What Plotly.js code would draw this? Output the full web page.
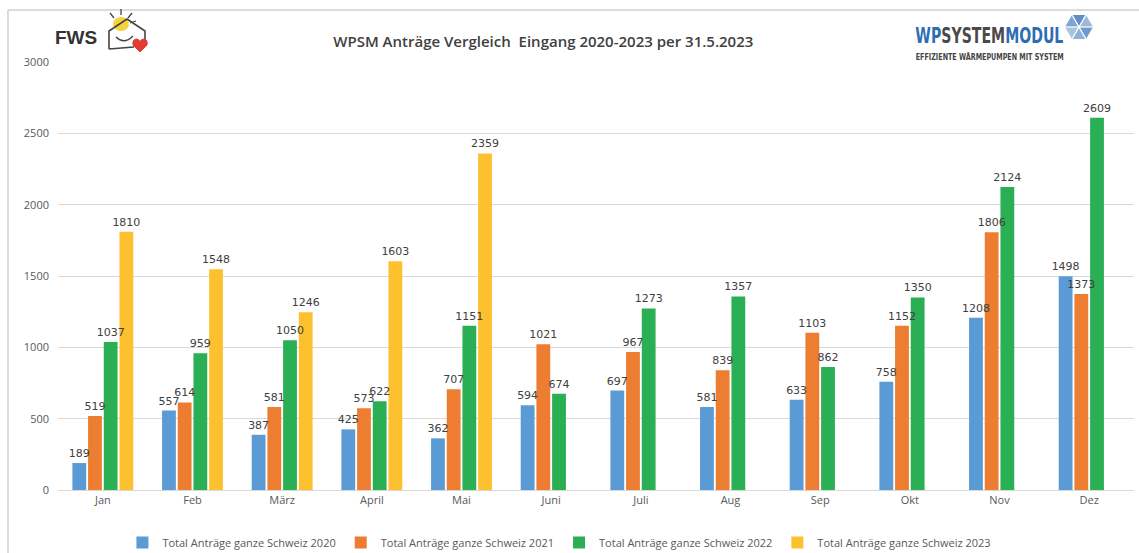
<!DOCTYPE html>
<html><head><meta charset="utf-8">
<script src="https://cdn.plot.ly/plotly-3.0.1.min.js"></script>
<style>html,body{margin:0;padding:0;background:#fff}#chart{width:1139px;height:553px}</style>
</head><body><div id="chart"></div>
<script>
const months = ["Jan","Feb","März","April","Mai","Juni","Juli","Aug","Sep","Okt","Nov","Dez"];
const seriesNames = ["Total Anträge ganze Schweiz 2020","Total Anträge ganze Schweiz 2021","Total Anträge ganze Schweiz 2022","Total Anträge ganze Schweiz 2023"];
const v2020 = [189,557,387,425,362,594,697,581,633,758,1208,1498];
const v2021 = [519,614,581,573,707,1021,967,839,1103,1152,1806,1373];
const v2022 = [1037,959,1050,622,1151,674,1273,1357,862,1350,2124,2609];
const v2023 = [1810,1548,1246,1603,2359,null,null,null,null,null,null,null];
const colors = ["#5B9BD5","#ED7D31","#2AAF55","#FDC02F"];
const allValues = [v2020,v2021,v2022,v2023];

const barTraces = allValues.map((vals,i)=>({
  type:"bar", x:months, y:vals, name:seriesNames[i], offsetgroup:"g"+i,
  marker:{color:colors[i]}, hoverinfo:"x+y"
}));
// transparent copies carrying the data labels, drawn after all bars so labels stay on top
const labelTraces = allValues.map((vals,i)=>({
  type:"bar", x:months, y:vals, name:seriesNames[i], offsetgroup:"g"+i, showlegend:false,
  marker:{color:"rgba(0,0,0,0)"}, hoverinfo:"skip",
  text:vals.map(v=>v==null?"":String(v)), textposition:"outside", constraintext:"none", textangle:0,
  textfont:{family:"DejaVu Sans", size:11, color:"#404040"}, cliponaxis:false
}));

const PX = px => (px-58)/1076;
const PY = py => (490-py)/428;

const hexC = [1079, 27], hexR = 14;
const hexPts = [];
for (let k=0;k<6;k++){ const a = k*Math.PI/3; hexPts.push([hexC[0]+hexR*Math.cos(a), hexC[1]-hexR*Math.sin(a)]); }
const hexPath = "M " + hexPts.map(p=>PX(p[0]).toFixed(4)+" "+PY(p[1]).toFixed(4)).join(" L ") + " Z";
const hexLines = hexPts.slice(0,3).map((p,k)=>{ const q = hexPts[k+3];
  return {type:"line", xref:"paper", yref:"paper", x0:PX(p[0]), y0:PY(p[1]), x1:PX(q[0]), y1:PY(q[1]), line:{color:"#fff", width:1.2}}; });
const tri = (a,b,c)=>({type:"path", xref:"paper", yref:"paper",
  path:`M ${PX(hexC[0])} ${PY(hexC[1])} L ${PX(hexPts[a][0])} ${PY(hexPts[a][1])} L ${PX(hexPts[b][0])} ${PY(hexPts[b][1])} Z`, fillcolor:c, line:{width:0}});

const layout = {
  width:1139, height:553,
  margin:{l:58,r:5,t:62,b:63, autoexpand:false},
  paper_bgcolor:"#fff", plot_bgcolor:"#fff",
  barmode:"group", bargap:0.3, bargroupgap:0.12,
  title:{text:"WPSM Anträge Vergleich  Eingang 2020-2023 per 31.5.2023", x:0.477, xanchor:"center", y:0.925, yanchor:"middle",
    font:{family:"Open Sans", size:15, color:"#404040", weight:600}},
  xaxis:{type:"category", showline:true, linecolor:"#d9d9d9", linewidth:1, ticks:"", showgrid:false,
    tickfont:{family:"Open Sans", size:11, color:"#595959"}},
  yaxis:{range:[0,3000], dtick:500, showgrid:true, gridcolor:"#d9d9d9", gridwidth:1, zeroline:false,
    tickfont:{family:"Open Sans", size:11, color:"#595959"}, ticklabelstandoff:8},
  showlegend:true,
  legend:{orientation:"h", x:0.466, xanchor:"center", y:PY(528), yanchor:"top",
    font:{family:"Open Sans", size:11, color:"#595959"}, traceorder:"normal"},
  annotations:[
    {xref:"paper", yref:"paper", x:PX(53), y:PY(37), xanchor:"left", yanchor:"middle", showarrow:false,
      text:"<b>FWS</b>", font:{family:"Liberation Sans", size:19, color:"#333"}},
    {xref:"paper", yref:"paper", x:PX(989), y:PY(35), xanchor:"center", yanchor:"middle", showarrow:false,
      text:"<b><span style='color:#2E6DB4'>WP</span><span style='color:#4a4a4a'>SYSTEM</span><span style='color:#2E6DB4'>MODUL</span></b>",
      font:{family:"DejaVu Sans", size:22}},
    {xref:"paper", yref:"paper", x:PX(989), y:PY(56), xanchor:"center", yanchor:"middle", showarrow:false,
      text:"<b>EFFIZIENTE WÄRMEPUMPEN MIT SYSTEM</b>",
      font:{family:"DejaVu Sans", size:9.5, color:"#444"}}
  ],
  shapes:[
    {type:"line", xref:"paper", yref:"paper", x0:PX(8), x1:PX(1139), y0:PY(10), y1:PY(10), line:{color:"#d0d0d0", width:1.5}},
    {type:"line", xref:"paper", yref:"paper", x0:PX(8), x1:PX(8), y0:PY(10), y1:PY(553), line:{color:"#d0d0d0", width:1.5}},
    {type:"circle", xref:"paper", yref:"paper", x0:PX(113), x1:PX(129), y0:PY(31), y1:PY(17), fillcolor:"#F5D33A", line:{width:0}},
    {type:"line", xref:"paper", yref:"paper", x0:PX(121), x1:PX(121), y0:PY(15), y1:PY(9), line:{color:"#444", width:1.3}},
    {type:"line", xref:"paper", yref:"paper", x0:PX(114), x1:PX(110), y0:PY(18), y1:PY(13), line:{color:"#444", width:1.3}},
    {type:"line", xref:"paper", yref:"paper", x0:PX(128), x1:PX(132), y0:PY(18), y1:PY(13), line:{color:"#444", width:1.3}},
    {type:"line", xref:"paper", yref:"paper", x0:PX(130), x1:PX(136), y0:PY(23), y1:PY(21), line:{color:"#444", width:1.3}},
    {type:"path", xref:"paper", yref:"paper",
      path:`M ${PX(109)} ${PY(49)} L ${PX(109)} ${PY(31)} L ${PX(127)} ${PY(19)} L ${PX(145)} ${PY(31)} L ${PX(145)} ${PY(43)} M ${PX(109)} ${PY(49)} L ${PX(134)} ${PY(47)}`,
      line:{color:"#444", width:1.6}, fillcolor:"rgba(0,0,0,0)"},
    {type:"path", xref:"paper", yref:"paper",
      path:`M ${PX(116)} ${PY(37)} Q ${PX(124)} ${PY(45)} ${PX(133)} ${PY(36)}`,
      line:{color:"#444", width:1.4}, fillcolor:"rgba(0,0,0,0)"},
    {type:"path", xref:"paper", yref:"paper",
      path:`M ${PX(140)} ${PY(52)} L ${PX(133)} ${PY(45)} Q ${PX(132)} ${PY(39)} ${PX(137)} ${PY(39)} Q ${PX(140)} ${PY(40)} ${PX(140)} ${PY(42)} Q ${PX(141)} ${PY(39)} ${PX(144)} ${PY(39)} Q ${PX(148)} ${PY(40)} ${PX(147)} ${PY(45)} Z`,
      fillcolor:"#E53935", line:{color:"#E53935", width:1}},
    tri(0,1,"#9DB9DA"), tri(1,2,"#5F8FC6"), tri(2,3,"#7FA6D2"), tri(3,4,"#A9C3E0"), tri(4,5,"#8FB0D8"), tri(5,0,"#6F9BCC"),
    ...hexLines
  ]
};
Plotly.newPlot("chart", [...barTraces, ...labelTraces], layout, {displayModeBar:false, staticPlot:true}).then(gd=>{
  const txts = gd.querySelectorAll(".annotation-text");
  const fit = (el,w)=>{ if(el){ el.setAttribute("textLength", w); el.setAttribute("lengthAdjust","spacingAndGlyphs"); } };
  fit(txts[1], 148);
  fit(txts[2], 148);
});
</script></body></html>
